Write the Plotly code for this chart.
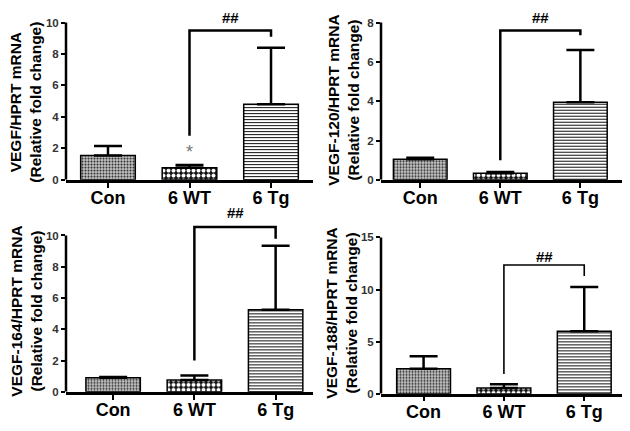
import plotly.graph_objects as go

# ---------------- data ----------------
categories = ["Con", "6 WT", "6 Tg"]
panel_titles = ["VEGF/HPRT mRNA", "VEGF-120/HPRT mRNA", "VEGF-164/HPRT mRNA", "VEGF-188/HPRT mRNA"]
y_subtitle = "(Relative fold change)"

means_vegf = [1.55, 0.76, 4.8]
sem_vegf = [0.6, 0.18, 3.6]
means_120 = [1.05, 0.33, 3.95]
sem_120 = [0.07, 0.07, 2.65]
means_164 = [0.9, 0.75, 5.25]
sem_164 = [0.05, 0.3, 4.1]
means_188 = [2.4, 0.55, 6.0]
sem_188 = [1.2, 0.35, 4.25]

ticks_vegf = [0, 2, 4, 6, 8, 10]
ticks_120 = [0, 2, 4, 6, 8]
ticks_164 = [0, 2, 4, 6, 8, 10]
ticks_188 = [0, 5, 10, 15]

# significance bracket: [start at 6 WT, top, end at 6 Tg]
bracket_vegf = [2.8, 9.5, 9.1]
bracket_120 = [1.0, 7.6, 7.35]
bracket_164 = [2.0, 10.55, 9.8]
bracket_188 = [1.9, 12.35, 11.3]
hash_label = "##"
hash_y = [10.3, 8.25, 11.45, 13.2]
star_label = "*"
star_vegf_y = 1.75

# ---------------- layout/styling ----------------
FONT = "Liberation Sans, Arial, sans-serif"
W, H = 630, 431

panels = [
    dict(means=means_vegf, sem=sem_vegf, ticks=ticks_vegf, bracket=bracket_vegf,
         xpx=(66, 313), ypx_bottom=180, yrange=(0, 10.6), yunit_px=16.1,
         xrange=(-0.515, 2.515), title_px=(26, 101), bw=2.5),
    dict(means=means_120, sem=sem_120, ticks=ticks_120, bracket=bracket_120,
         xpx=(381, 622), ypx_bottom=180, yrange=(0, 8.5), yunit_px=20.125,
         xrange=(-0.49, 2.52), title_px=(344, 98), bw=2.5),
    dict(means=means_164, sem=sem_164, ticks=ticks_164, bracket=bracket_164,
         xpx=(66, 313), ypx_bottom=397, yrange=(0, 11.8), yunit_px=16.0,
         xrange=(-0.58, 2.46), title_px=(27, 315), bw=2.5),
    dict(means=means_188, sem=sem_188, ticks=ticks_188, bracket=bracket_188,
         xpx=(381, 622), ypx_bottom=399, yrange=(0, 15.2), yunit_px=10.667,
         xrange=(-0.53, 2.47), title_px=(342, 317), bw=1.6),
]

bar_styles = [
    dict(shape=".", fgcolor="#2a2a2a", bgcolor="#c8c8c8", size=3, solidity=0.4),
    dict(shape=".", fgcolor="#ffffff", bgcolor="#111111", size=5, solidity=0.5),
    dict(shape="-", fgcolor="#111111", bgcolor="#ffffff", size=3, solidity=0.35),
]

fig = go.Figure()
layout_axes = {}
shapes = []
annotations = []

for i, p in enumerate(panels):
    n = "" if i == 0 else str(i + 1)
    xa, ya = "x" + n, "y" + n
    ytop_px = p["ypx_bottom"] - (p["yrange"][1] - p["yrange"][0]) * p["yunit_px"]
    xdom = [p["xpx"][0] / W, p["xpx"][1] / W]
    ydom = [1 - p["ypx_bottom"] / H, 1 - ytop_px / H]

    for j, cat in enumerate(categories):
        st = bar_styles[j]
        fig.add_trace(go.Bar(
            x=[cat], y=[p["means"][j]], xaxis=xa, yaxis=ya, width=0.67,
            marker=dict(color=st["bgcolor"], line=dict(color="black", width=1.5),
                        pattern=dict(fillmode="replace", **st)),
            error_y=dict(type="data", symmetric=False, array=[p["sem"][j]], arrayminus=[0],
                         color="black", thickness=2.5, width=14),
            showlegend=False, hoverinfo="skip"))

    b = p["bracket"]
    fig.add_trace(go.Scatter(
        x=[categories[1], categories[1], categories[2], categories[2]],
        y=[b[0], b[1], b[1], b[2]], xaxis=xa, yaxis=ya, mode="lines",
        line=dict(color="black", width=p["bw"]), showlegend=False, hoverinfo="skip",
        cliponaxis=False))

    layout_axes["xaxis" + n] = dict(
        domain=xdom, anchor=ya, range=list(p["xrange"]), type="category",
        categoryorder="array", categoryarray=categories,
        showline=True, linecolor="black", linewidth=2.5, ticks="outside",
        ticklen=5, tickwidth=2, tickcolor="black", showgrid=False, zeroline=False,
        ticklabelstandoff=-5,
        tickfont=dict(family=FONT, size=18, color="black", weight="bold"))
    layout_axes["yaxis" + n] = dict(
        domain=ydom, anchor=xa, range=list(p["yrange"]), tickvals=p["ticks"],
        showline=False, ticks="outside", ticklen=4, tickwidth=2, tickcolor="black",
        showgrid=False, zeroline=False,
        tickfont=dict(family=FONT, size=11.5, color="#333333", weight="bold"))

    # visible y-axis line from 0 to the top tick
    shapes.append(dict(type="line", xref=xa + " domain", yref=ya, x0=0, x1=0,
                       y0=p["ticks"][0], y1=p["ticks"][-1],
                       line=dict(color="black", width=2.5)))

    annotations.append(dict(x=1.5, y=hash_y[i], xref=xa, yref=ya, text=hash_label,
                            showarrow=False, xanchor="center", yanchor="middle",
                            font=dict(family=FONT, size=15, color="black", weight="bold")))

    annotations.append(dict(x=p["title_px"][0] / W, y=1 - p["title_px"][1] / H,
                            xref="paper", yref="paper", textangle=-90,
                            text=panel_titles[i] + "<br>" + y_subtitle, showarrow=False,
                            xanchor="center", yanchor="middle",
                            font=dict(family=FONT, size=15.5, color="black", weight="bold")))

annotations.append(dict(x=1, y=star_vegf_y, xref="x", yref="y", text=star_label,
                        showarrow=False, xanchor="center", yanchor="middle",
                        font=dict(family=FONT, size=18, color="#777777")))

fig.update_layout(
    width=W, height=H, margin=dict(l=0, r=0, t=0, b=0),
    paper_bgcolor="white", plot_bgcolor="white", barmode="overlay",
    shapes=shapes, annotations=annotations,
    **layout_axes)

fig.write_html("out.html", config={"displayModeBar": False},
               post_script="document.body.style.margin='0';")
